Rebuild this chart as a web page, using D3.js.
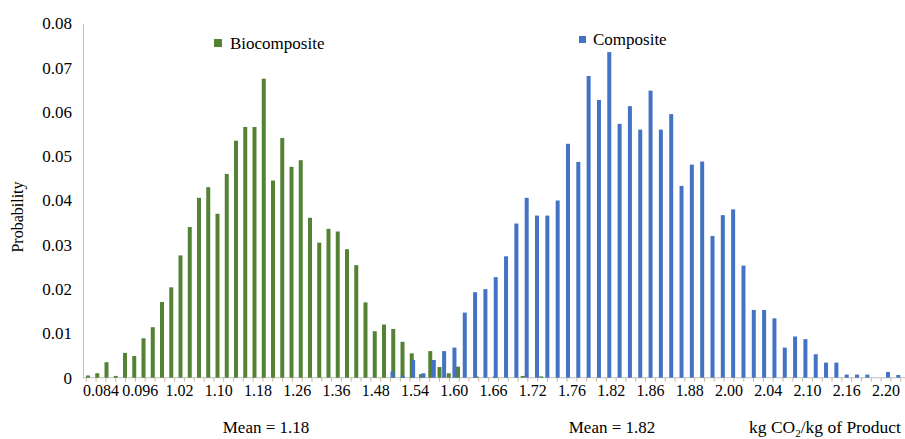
<!DOCTYPE html>
<html>
<head>
<meta charset="utf-8">
<script src="https://cdn.jsdelivr.net/npm/d3@7"></script>
<style>
  body { margin: 0; background: #fff; }
  svg { display: block; }
  text { font-family: "Liberation Serif", "Times New Roman", serif; fill: #000; }
</style>
</head>
<body>
<div id="chart"></div>
<script>
const greenVals = [
  0.0005, 0.0010, 0.0035, 0.0004, 0.0056, 0.0049, 0.0089, 0.0114, 0.0171, 0.0204,
  0.0276, 0.0340, 0.0406, 0.0430, 0.0370, 0.0460, 0.0535, 0.0566, 0.0566, 0.0675,
  0.0445, 0.0541, 0.0476, 0.0491, 0.0361, 0.0305, 0.0336, 0.0330, 0.0290, 0.0254,
  0.0170, 0.0105, 0.0120, 0.0110, 0.0081, 0.0055, 0.0008, 0.0060, 0.0024, 0.0010,
  0.0025, 0, 0.0003, 0, 0.0003, 0, 0, 0.0004, 0, 0.0003
];

// Composite, azul
const blueVals = [
  0.0014, 0.0005, 0.0040, 0.0010, 0.0040, 0.0060, 0.0068, 0.0147, 0.0193, 0.0200,
  0.0227, 0.0274, 0.0348, 0.0406, 0.0366, 0.0366, 0.0400, 0.0528, 0.0487, 0.0681,
  0.0627, 0.0735, 0.0573, 0.0613, 0.0560, 0.0648, 0.0560, 0.0595, 0.0433, 0.0481,
  0.0488, 0.0320, 0.0367, 0.0380, 0.0253, 0.0153, 0.0153, 0.0134, 0.0068, 0.0093,
  0.0087, 0.0053, 0.0034, 0.0034, 0.0007, 0.0007, 0.0007, 0, 0.0013, 0.0006
];

const tickLabels = ["0.084", "0.096", "1.02", "1.10", "1.18", "1.26", "1.36", "1.48", "1.54", "1.60",
  "1.66", "1.72", "1.76", "1.82", "1.86", "1.88", "2.00", "2.04", "2.10", "2.16", "2.20"];

const yTicks = [0, 0.01, 0.02, 0.03, 0.04, 0.05, 0.06, 0.07, 0.08];

const svgWidth = 905, svgHeight = 439;
const axisX = 83, axisY = 377.7;

const svg = d3.select("#chart")
  .append("svg")
  .attr("width", svgWidth)
  .attr("height", svgHeight);

// Escala Y
const y = d3.scaleLinear().domain([0, 0.08]).range([axisY, 23.3]);

// Escalas X: cada serie tiene su propio paso de bins en la figura
const xGreen = d3.scaleLinear().domain([0, greenVals.length - 1]).range([88, 88 + 9.25 * (greenVals.length - 1)]);
const xBlue = d3.scaleLinear().domain([0, blueVals.length - 1]).range([392.5, 898.3]);
const xLab = d3.scalePoint().domain(tickLabels).range([101, 886]);
const xTick = d3.scaleLinear().domain([0, tickLabels.length - 1]).range([101, 886]);

const barW = 4;

// Eje Y
const yAxis = svg.append("g")
  .attr("transform", `translate(${axisX},0)`)
  .call(d3.axisLeft(y).tickValues(yTicks)
    .tickFormat(d => d === 0 ? "0" : d3.format(".2f")(d))
    .tickSize(0).tickPadding(11));
yAxis.select(".domain").attr("stroke", "#bfbfbf");
yAxis.selectAll("text").attr("font-size", 17).attr("font-family", "Liberation Serif, serif");

// Eje X (linea y marcas)
svg.append("line")
  .attr("x1", axisX).attr("x2", svgWidth)
  .attr("y1", axisY).attr("y2", axisY)
  .attr("stroke", "#bfbfbf");

const minor = d3.range(-0.375, tickLabels.length - 0.5, 0.25);
svg.selectAll(".mtick")
  .data(minor)
  .enter()
  .append("line")
  .attr("x1", d => xTick(d)).attr("x2", d => xTick(d))
  .attr("y1", axisY).attr("y2", axisY + 4)
  .attr("stroke", "#c9b99a");

svg.selectAll(".xlab")
  .data(tickLabels)
  .enter()
  .append("text")
  .attr("x", d => xLab(d))
  .attr("y", 396)
  .attr("text-anchor", "middle")
  .attr("font-size", 16)
  .text(d => d);

// Barras
svg.selectAll(".green")
  .data(greenVals.map((v, i) => ({ v, i })).filter(d => d.v > 0))
  .enter()
  .append("rect")
  .attr("x", d => xGreen(d.i) - barW / 2)
  .attr("y", d => y(d.v))
  .attr("width", barW)
  .attr("height", d => axisY - y(d.v))
  .attr("fill", "#548235");

svg.selectAll(".blue")
  .data(blueVals.map((v, i) => ({ v, i })).filter(d => d.v > 0))
  .enter()
  .append("rect")
  .attr("x", d => xBlue(d.i) - barW / 2)
  .attr("y", d => y(d.v))
  .attr("width", barW)
  .attr("height", d => axisY - y(d.v))
  .attr("fill", "#4472c4");

// Titulo eje Y
svg.append("text")
  .attr("transform", "translate(23,217) rotate(-90)")
  .attr("text-anchor", "middle")
  .attr("font-size", 16)
  .text("Probability");

// Leyenda
svg.append("rect").attr("x", 214).attr("y", 39).attr("width", 8).attr("height", 8).attr("fill", "#548235");
svg.append("text").attr("x", 230).attr("y", 49).attr("font-size", 17).text("Biocomposite");
svg.append("rect").attr("x", 579).attr("y", 36).attr("width", 7).attr("height", 7).attr("fill", "#4472c4");
svg.append("text").attr("x", 593).attr("y", 45).attr("font-size", 17).text("Composite");

// Medias y unidad
svg.append("text").attr("x", 266).attr("y", 433).attr("text-anchor", "middle").attr("font-size", 17).text("Mean = 1.18");
svg.append("text").attr("x", 612).attr("y", 433).attr("text-anchor", "middle").attr("font-size", 17).text("Mean = 1.82");

const unit = svg.append("text").attr("x", 749).attr("y", 433).attr("font-size", 17.5);
unit.append("tspan").text("kg CO");
unit.append("tspan").attr("font-size", 11).attr("dy", 4).text("2");
unit.append("tspan").attr("dy", -4).text("/kg of Product");
</script>
</body>
</html>
